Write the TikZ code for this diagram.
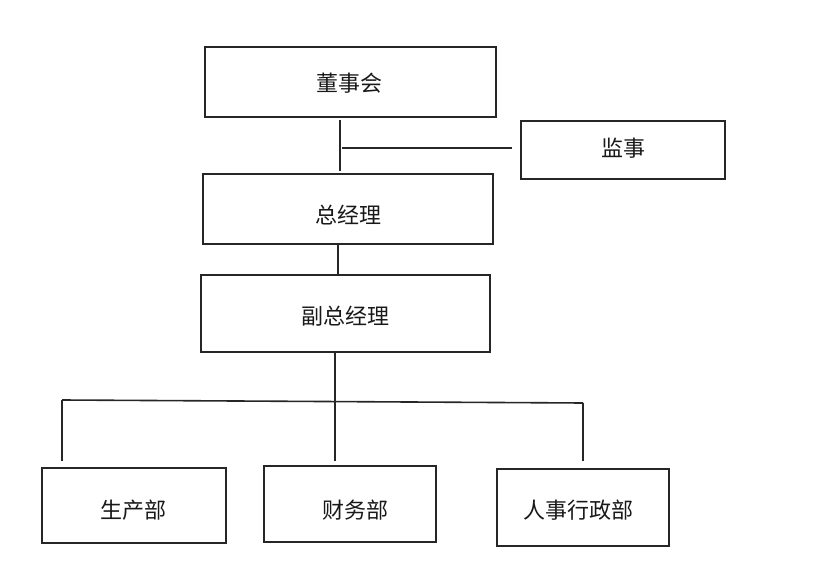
\documentclass[tikz,border=0pt]{standalone}
\usepackage{fontspec}
\newfontfamily\cjk{Noto Sans CJK SC}
\begin{document}
\begin{tikzpicture}[x=1pt,y=-1pt,
  boxnode/.style={draw=black!85,line width=1.7pt,rectangle,inner sep=0pt},
  conn/.style={draw=black!85,line width=1.6pt},
  txt/.style={font=\cjk\fontsize{22}{26}\selectfont,text=black!90,inner sep=0pt}]
\useasboundingbox[fill=white] (0,0) rectangle (820,564);
% boxes
\node[boxnode,minimum width=291pt,minimum height=70pt] (dsh) at (350.5,82) {};
\node[boxnode,minimum width=204pt,minimum height=58pt] (js) at (623,150) {};
\node[boxnode,minimum width=290pt,minimum height=70pt] (zjl) at (348,209) {};
\node[boxnode,minimum width=289pt,minimum height=77pt] (fzjl) at (345.5,313.5) {};
\node[boxnode,minimum width=184pt,minimum height=75pt] (scb) at (134,505.5) {};
\node[boxnode,minimum width=172pt,minimum height=76pt] (cwb) at (350,504) {};
\node[boxnode,minimum width=172pt,minimum height=77pt] (rsb) at (583,507.5) {};
% texts
\node[txt] (t1) at (349,83) {董事会};
\node[txt] (t2) at (623,148) {监事};
\node[txt] (t3) at (348,215) {总经理};
\node[txt] (t4) at (345,316) {副总经理};
\node[txt] (t5) at (133,510) {生产部};
\node[txt] (t6) at (355,510) {财务部};
\node[txt] (t7) at (578,510) {人事行政部};
% helper coordinates
\coordinate (c1) at (340,148);
\coordinate (c2) at (338,0);
\coordinate (c3) at (335,0);
\coordinate (bl) at (62,400);
\coordinate (br) at (583,403);
% connectors
\draw[conn,shorten <=2pt,shorten >=2pt] (dsh.south -| c1) -- (zjl.north -| c1);
\draw[conn,shorten <=2pt,shorten >=8pt] (c1) -- (js.west |- c1);
\draw[conn] (zjl.south -| c2) -- (fzjl.north -| c2);
\draw[conn,shorten >=4pt] (fzjl.south -| c3) -- (cwb.north -| c3);
\draw[conn] (bl) -- (br);
\draw[conn,shorten >=6pt] (bl) -- (scb.north -| bl);
\draw[conn,shorten >=7pt] (br) -- (rsb.north -| br);
\end{tikzpicture}
\end{document}
